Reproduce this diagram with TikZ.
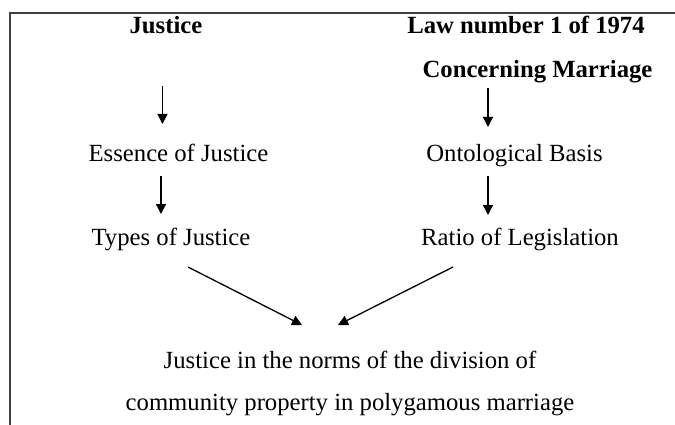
\documentclass[tikz,border=0pt]{standalone}
\usepackage{fontspec}
\setmainfont{Liberation Serif}
\usetikzlibrary{arrows.meta}
\begin{document}
\begin{tikzpicture}[x=1pt,y=-1pt,
  lbl/.style={anchor=base,inner sep=0pt,font=\fontsize{24.7}{30}\selectfont},
  hdr/.style={lbl,font=\fontsize{24.7}{30}\selectfont\bfseries},
  conn/.style={line width=1.3pt,-{Triangle[length=10pt,width=10pt]}},
  frame/.style={line width=1.5pt,draw=black!75}]
\useasboundingbox (0,0) rectangle (675,425);
\draw[frame] (10,425) -- (10,13) -- (675,13);
% texts
\node[hdr] (justice) at (166,34) {Justice};
\node[hdr] (law) at (526,34) {Law number 1 of 1974};
\node[hdr] (marriage) at (537.5,78) {Concerning Marriage};
\node[lbl] (essence) at (178.5,161) {Essence of Justice};
\node[lbl] (onto) at (514.5,161) {Ontological Basis};
\node[lbl] (types) at (171,245) {Types of Justice};
\node[lbl] (ratio) at (520,245) {Ratio of Legislation};
\node[lbl] (res1) at (350,368) {Justice in the norms of the division of};
\node[lbl] (res2) at (350,410) {community property in polygamous marriage};
% connector end points
\coordinate (a1s) at (162.5,86);  \coordinate (a1e) at (162.5,124);
\coordinate (b1s) at (488,88);    \coordinate (b1e) at (488,127);
\coordinate (a2s) at (161,176);   \coordinate (a2e) at (161,214);
\coordinate (b2s) at (488,176);   \coordinate (b2e) at (488,215);
\coordinate (a3s) at (188,267);   \coordinate (a3e) at (302,325);
\coordinate (b3s) at (453,267);   \coordinate (b3e) at (338,325);
\draw[conn] (a1s) -- (a1e);
\draw[conn] (b1s) -- (b1e);
\draw[conn] (a2s) -- (a2e);
\draw[conn] (b2s) -- (b2e);
\draw[conn] (a3s) -- (a3e);
\draw[conn] (b3s) -- (b3e);
\end{tikzpicture}
\end{document}
